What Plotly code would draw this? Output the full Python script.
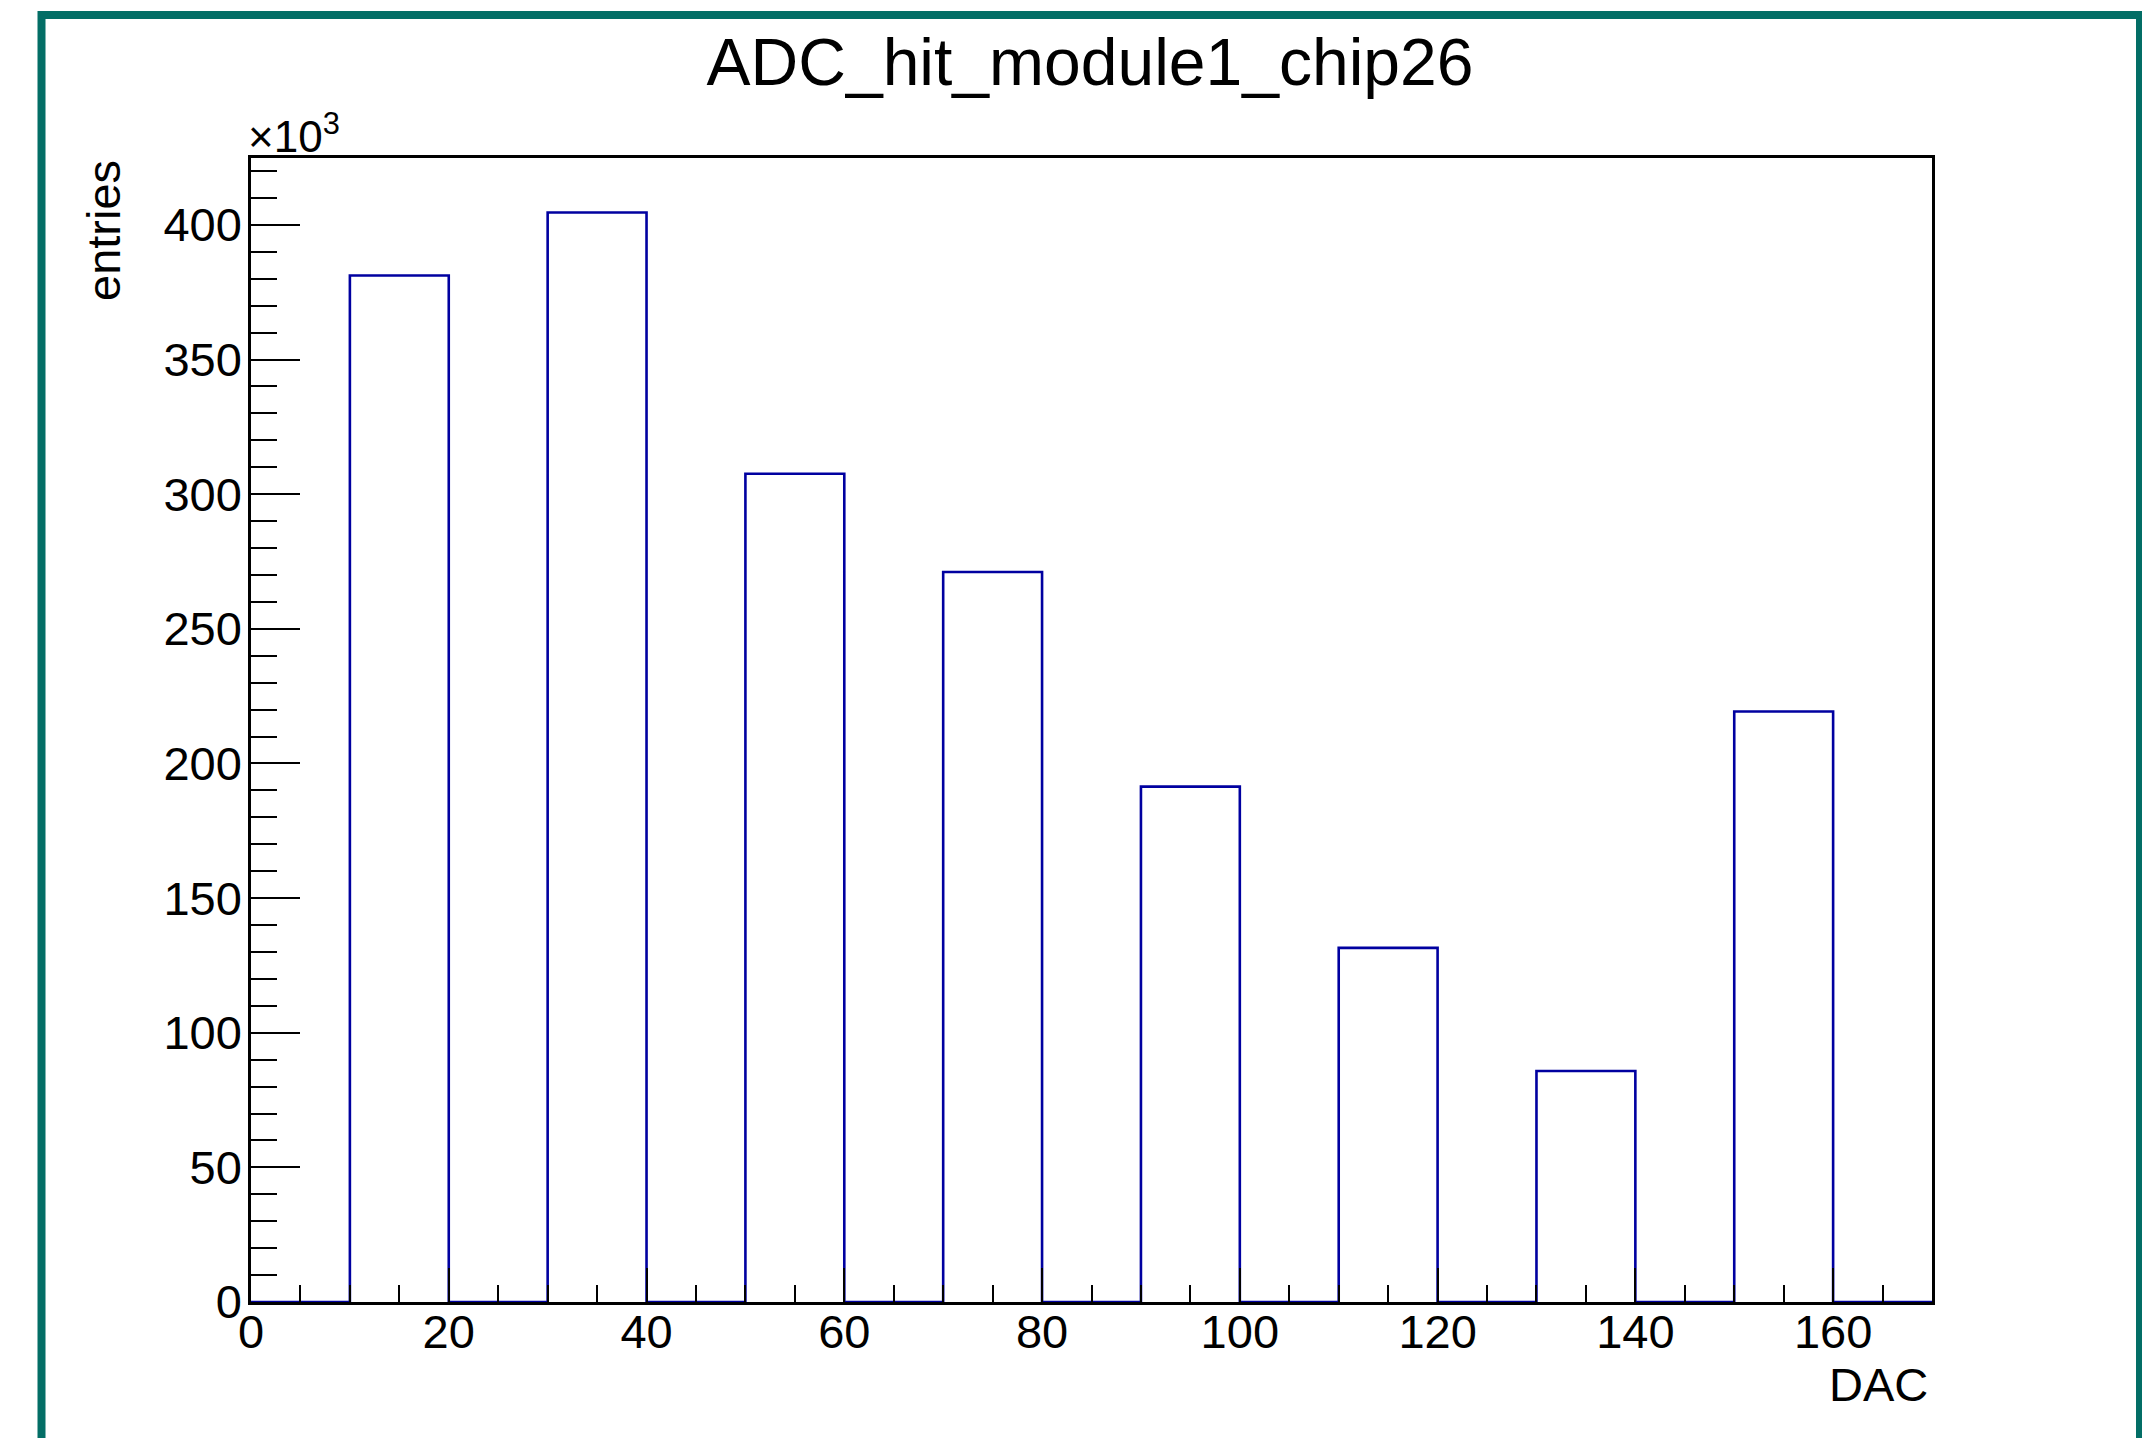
import plotly.graph_objects as go

# ---- data ----
bin_edges = [0, 10, 20, 30, 40, 50, 60, 70, 80, 90, 100, 110, 120, 130, 140, 150, 160, 170]
counts = [0, 381200, 0, 404600, 0, 307600, 0, 271100, 0, 191400, 0, 131500, 0, 85800, 0, 219300, 0]
title_text = "ADC_hit_module1_chip26"
x_title = "DAC"
y_title = "entries"
y_scale = 1000  # axis shows x10^3

# ---- geometry (pixels) ----
W, H = 2142, 1438
L, R, T, B = 251, 1932, 158, 1302
pw, ph = R - L, B - T

def px(x):
    return (x - L) / pw

def py(y):
    return (B - y) / ph

FONT = "Liberation Sans, Arial, Helvetica, sans-serif"
BLUE = "#0000a0"
TEAL = "#036e66"
LBL = 47

# step outline of the histogram
xs, ys = [], []
for i, c in enumerate(counts):
    xs += [bin_edges[i], bin_edges[i + 1]]
    ys += [c / y_scale, c / y_scale]

fig = go.Figure()
fig.add_trace(go.Scatter(x=xs, y=ys, mode="lines",
                         line=dict(color=BLUE, width=2.6),
                         hoverinfo="skip", showlegend=False))

ymax = max(counts) / y_scale * 1.05

fig.update_layout(
    width=W, height=H,
    margin=dict(l=L, r=W - R, t=T, b=H - B, autoexpand=False),
    paper_bgcolor="white", plot_bgcolor="white",
    font=dict(family=FONT, color="black", size=LBL),
    showlegend=False,
    title=dict(text=title_text, x=1090 / W, xanchor="center", xref="container",
               y=1 - 61.5 / H, yanchor="middle", yref="container",
               font=dict(size=66, family=FONT, color="black")),
    xaxis=dict(range=[bin_edges[0], bin_edges[-1]], showgrid=False, zeroline=False,
               showline=True, linecolor="black", linewidth=2.6, mirror=True,
               ticks="inside", ticklen=34, tickwidth=2.4, tickcolor="black",
               tick0=0, dtick=20, ticklabelstandoff=-13,
               tickfont=dict(size=LBL, family=FONT, color="black"),
               minor=dict(ticks="inside", ticklen=17, tickwidth=2.4, tickcolor="black",
                          dtick=5, tick0=0, showgrid=False)),
    yaxis=dict(range=[0, ymax], showgrid=False, zeroline=False,
               showline=True, linecolor="black", linewidth=2.6, mirror=True,
               ticks="inside", ticklen=49, tickwidth=2.4, tickcolor="black",
               tick0=0, dtick=50, ticklabelstandoff=-3,
               tickfont=dict(size=LBL, family=FONT, color="black"),
               minor=dict(ticks="inside", ticklen=26, tickwidth=2.4, tickcolor="black",
                          dtick=10, tick0=0, showgrid=False)),
)

# canvas border
fig.add_shape(type="rect", xref="paper", yref="paper",
              x0=px(41.5), x1=px(2140), y0=py(1460), y1=py(15),
              line=dict(color=TEAL, width=8), fillcolor="rgba(0,0,0,0)", layer="below")

# axis titles and exponent
fig.add_annotation(text=x_title, xref="paper", yref="paper", x=px(1930), y=py(1384),
                   xanchor="right", yanchor="middle", showarrow=False,
                   font=dict(size=LBL, family=FONT, color="black"))
fig.add_annotation(text=y_title, xref="paper", yref="paper", x=px(103.5), y=1,
                   xanchor="center", yanchor="top", textangle=-90, showarrow=False,
                   font=dict(size=LBL, family=FONT, color="black"))
fig.add_annotation(text="×10<sup>3</sup>", xref="paper", yref="paper", x=px(246), y=py(163),
                   xanchor="left", yanchor="bottom", showarrow=False,
                   font=dict(size=44, family=FONT, color="black"))

fig.write_html("out.html", config={"displayModeBar": False},
               post_script="document.body.style.margin='0';")
